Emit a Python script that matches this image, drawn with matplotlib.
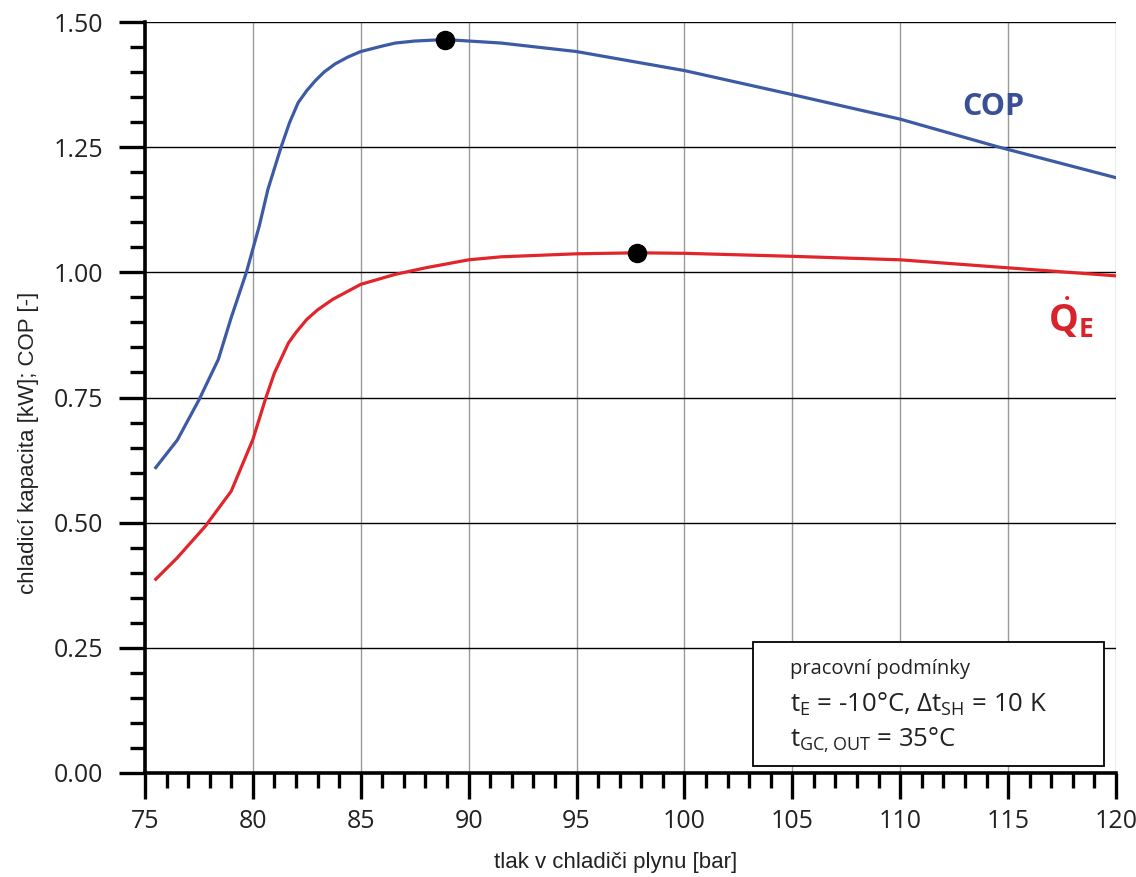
import matplotlib
matplotlib.use("Agg")
import matplotlib.pyplot as plt
from matplotlib.patches import Rectangle
from matplotlib.ticker import MultipleLocator

# data
pressure_cop = [75.5, 76.5, 77.5, 78.4, 79.0, 79.7, 80.3, 80.7, 81.3, 81.7, 82.1,
                82.5, 82.9, 83.3, 83.8, 84.4, 85.0, 86.0, 86.6, 87.5, 88.9, 91.5,
                95.0, 100.0, 105.0, 110.0, 114.5, 120.0]
cop = [0.61, 0.665, 0.745, 0.826, 0.91, 1.0, 1.093, 1.166, 1.249, 1.299, 1.339,
       1.363, 1.383, 1.400, 1.416, 1.430, 1.441, 1.452, 1.458, 1.462, 1.465, 1.458,
       1.441, 1.403, 1.355, 1.306, 1.251, 1.189]

pressure_qe = [75.5, 76.5, 77.8, 79.0, 80.0, 80.6, 81.0, 81.65, 82.0, 82.5, 83.0,
               83.7, 85.0, 86.6, 88.0, 90.0, 91.5, 95.0, 97.8, 100.0, 105.0, 110.0,
               115.0, 120.0]
qe = [0.387, 0.43, 0.493, 0.563, 0.666, 0.749, 0.799, 0.859, 0.880, 0.906, 0.925,
      0.946, 0.976, 0.996, 1.009, 1.025, 1.031, 1.037, 1.039, 1.038, 1.032, 1.025,
      1.009, 0.993]

cop_peak = (88.9, 1.465)
qe_peak = (97.8, 1.039)

conditions = ["pracovní podmínky",
              "t$_\\mathregular{E}$ = -10°C, Δt$_\\mathregular{SH}$ = 10 K",
              "t$_\\mathregular{GC,OUT}$ = 35°C"]

plt.rcParams['mathtext.fontset'] = 'custom'
plt.rcParams['mathtext.rm'] = 'Open Sans'
plt.rcParams['mathtext.bf'] = 'Open Sans:bold'

label_font = 'Liberation Sans'

fig = plt.figure(figsize=(11.36, 8.77), dpi=100)
ax = fig.add_axes([0.1276, 0.1186, 0.8548, 0.8563])

ax.plot(pressure_cop, cop, color='#3d5aa5', lw=2.3, zorder=3)
ax.plot(pressure_qe, qe, color='#e1252b', lw=2.3, zorder=3)
ax.plot(*cop_peak, 'o', color='black', ms=13, zorder=4)
ax.plot(*qe_peak, 'o', color='black', ms=13, zorder=4)

ax.set_xlim(75, 120)
ax.set_ylim(0, 1.5)
ax.xaxis.set_major_locator(MultipleLocator(5))
ax.xaxis.set_minor_locator(MultipleLocator(1))
ax.yaxis.set_major_locator(MultipleLocator(0.25))
ax.yaxis.set_minor_locator(MultipleLocator(0.05))
ax.yaxis.set_major_formatter(lambda v, p: f"{v:.2f}")

ax.grid(axis='y', which='major', color='black', lw=1.0)
ax.grid(axis='x', which='major', color='#9a9a9a', lw=1.0)
ax.set_axisbelow(True)

for s in ['top', 'right']:
    ax.spines[s].set_visible(False)
for s in ['left', 'bottom']:
    ax.spines[s].set_linewidth(2.6)
    ax.spines[s].set_zorder(5)

ax.tick_params(which='major', direction='out', length=19, width=2.4,
               labelsize=18, pad=7)
ax.tick_params(which='minor', direction='out', length=11, width=2.4)
ax.tick_params(axis='y', which='major', pad=11)
for lab in ax.get_xticklabels() + ax.get_yticklabels():
    lab.set_fontfamily('Open Sans')
    lab.set_color('#222222')

ax.set_xlabel('tlak v chladiči plynu [bar]', fontsize=16, family=label_font,
              color='#222222')
ax.set_ylabel('chladicí kapacita [kW]; COP [-]', fontsize=16, family=label_font,
              color='#222222')
ax.xaxis.set_label_coords(0.485, -0.105)
ax.yaxis.set_label_coords(-0.109, 0.44)

ax.text(114.3, 1.33, 'COP', color='#3a4f94', fontsize=22, fontweight='bold',
        family='Open Sans', ha='center', va='center')
ax.text(117.9, 0.91, r'$\mathbf{\dot{Q}_E}$', color='#d9232b', fontsize=27,
        ha='center', va='center')

box = Rectangle((0.626, 0.0093), 0.362, 0.165, transform=ax.transAxes,
                facecolor='white', edgecolor='black', lw=1.3, zorder=6)
ax.add_patch(box)
ax.text(0.664, 0.139, conditions[0], transform=ax.transAxes, fontsize=14.5,
        family='Open Sans', va='center', zorder=7, color='#222222')
ax.text(0.664, 0.091, conditions[1], transform=ax.transAxes, fontsize=18.5,
        family='Open Sans', va='center', zorder=7, color='#222222')
ax.text(0.664, 0.043, conditions[2], transform=ax.transAxes, fontsize=18.5,
        family='Open Sans', va='center', zorder=7, color='#222222')

fig.savefig('out.png', dpi=100)
